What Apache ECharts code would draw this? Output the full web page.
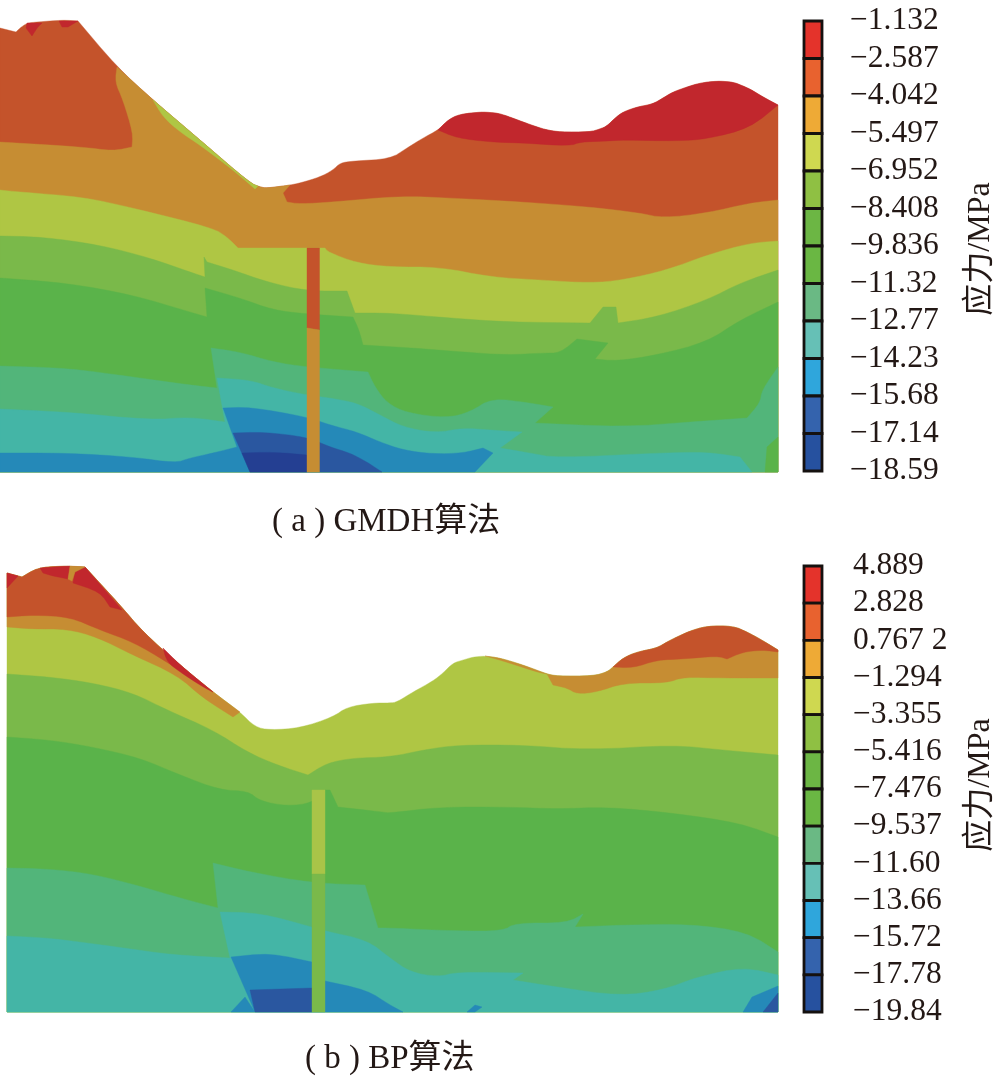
<!DOCTYPE html>
<html>
<head>
<meta charset="utf-8">
<title>应力云图</title>
<style>
  html, body { margin: 0; background: #fff; }
  #chart { width: 998px; height: 1077px; }
</style>
<script src="https://cdn.jsdelivr.net/npm/echarts@6/dist/echarts.min.js"></script>
</head>
<body>
<div id="chart"></div>
<script>
// 图例刻度
const ticksA = ['−1.132','−2.587','−4.042','−5.497','−6.952','−8.408','−9.836','−11.32','−12.77','−14.23','−15.68','−17.14','−18.59'];
const ticksB = ['4.889','2.828','0.767 2','−1.294','−3.355','−5.416','−7.476','−9.537','−11.60','−13.66','−15.72','−17.78','−19.84'];
const legendColors = ['#e4332b','#e8622f','#eeaa36','#cfd850','#8fc043','#6cb644','#6ab743','#6ab984','#66c0b6','#2fa6dc','#3463ad','#26519f'];

// 云图配色
const RED = '#c1272d', ORG = '#c4532b', OCH = '#c68d33', YEL = '#afc644', GR1 = '#7ab94a',
      GR2 = '#5ab34a', SEA = '#52b57a', TEA = '#44b5a6', BLU = '#2589b8', DBL = '#2a57a0', NAV = '#243f92';

// (a) GMDH —— 地表轮廓，剖面坐标
const terrainA = [[0,28],[16,32],[20,28],[27,23],[37,22],[63,20],[78,21],[117,67],[153,100],[200,140],[250,183],[260,187],[267,188],[283,186],[290,185],[300,183],[320,177],[333,170],[340,163],[353,161],[390,159],[407,148],[423,138],[438,130],[445,123],[450,119],[458,115],[470,113],[483,112],[497,113],[507,116],[523,122],[537,127],[547,130],[560,132],[590,132],[600,129],[607,126],[615,118],[623,112],[637,107],[653,104],[663,98],[673,92],[687,87],[700,83],[717,81],[733,82],[743,86],[750,89],[763,97],[778,105]];
// 各应力带的上边界
const ochreA = [[0,142],[83,147],[113,151],[132,147],[133,133],[123,100],[115,82],[117,67],[153,100],[200,140],[250,183],[260,187],[267,188],[283,186],[290,185],[283,193],[287,202],[300,204],[333,202],[400,196],[450,198],[523,202],[590,207],[640,213],[663,218],[707,213],[750,203],[778,200]];
const yellowA = [[0,190],[20,192],[83,197],[133,208],[213,228],[227,237],[238,248],[325,248],[328,252],[357,263],[390,267],[440,267],[490,277],[540,280],[590,283],[623,280],[667,270],[707,255],[750,243],[778,241]];
const green1A = [[0,236],[43,237],[100,245],[150,258],[190,272],[205,277],[204,257],[207,262],[233,270],[267,282],[307,291],[347,291],[355,313],[390,313],[450,318],[507,322],[590,323],[603,307],[616,307],[618,323],[657,317],[707,300],[740,283],[778,270]];
const green2A = [[0,278],[67,283],[133,295],[190,312],[207,317],[205,288],[240,298],[273,310],[307,314],[353,317],[359,330],[363,345],[413,348],[463,352],[507,355],[543,353],[560,353],[577,339],[608,343],[595,359],[617,361],[657,355],[707,342],[740,320],[778,302]];
const seaA = [[0,366],[67,368],[133,377],[190,385],[217,388],[211,348],[240,352],[273,362],[307,367],[368,372],[375,387],[387,403],[407,413],[447,418],[470,412],[492,398],[530,403],[553,407],[535,423],[623,427],[690,422],[747,418],[760,403],[762,390],[778,367]];
const tealA = [[0,409],[67,412],[150,420],[190,417],[225,422],[217,378],[250,380],[273,388],[307,395],[330,398],[357,403],[380,415],[403,427],[435,433],[463,428],[490,430],[522,432],[500,448],[530,453],[557,458],[657,453],[707,452],[740,457],[752,472]];
const blueA = [[0,453],[67,453],[133,457],[175,463],[190,458],[213,453],[237,447],[223,408],[250,407],[307,417],[330,425],[357,432],[380,442],[403,450],[433,454],[463,453],[483,448],[493,453],[475,472]];
const darkBlueA = [[233,433],[263,432],[307,437],[330,447],[350,453],[367,462],[382,472],[250,472]];
const navyA = [[242,453],[273,452],[307,455],[307,472],[250,472]];
const redPeak1A = [[27,23],[42,23],[37,28],[32,36],[26,28]];
const redPeak2A = [[59,21],[78,21],[68,27],[62,27]];
const redHillEdgeA = [[778,105],[750,128],[707,139],[677,141],[623,140],[607,141],[580,142],[570,146],[523,143],[490,142],[457,138],[438,130]];
const slopeSliverA = [[153,100],[200,140],[250,183],[258,186],[255,189],[233,170],[200,145],[180,132],[163,117]];
const cornerGreenA = [[778,437],[767,447],[765,472],[778,472]];
const shaftUpperA = [[307,248],[319.5,248],[319.5,330],[307,328]];
const shaftLowerA = [[307,328],[319.5,330],[319.5,472],[307,472]];

// (b) BP
const terrainB = [[7,573],[22,577],[37,568],[60,566],[85,567],[120,605],[143,632],[180,665],[213,692],[240,712],[255,727],[270,730],[300,728],[333,717],[347,707],[373,703],[390,703],[397,702],[413,692],[433,681],[443,673],[453,663],[463,660],[473,657],[485,656],[500,658],[523,665],[547,674],[557,676],[593,676],[607,672],[613,667],[623,658],[637,652],[657,648],[667,642],[677,637],[690,631],[707,626],[733,626],[747,632],[760,639],[778,650]];
const orangeEdgeB = [[213,692],[167,662],[133,642],[100,630],[70,617],[33,615],[7,617]];
const ochreEdgeB = [[240,712],[233,717],[203,698],[177,675],[133,655],[97,637],[67,629],[33,629],[7,627]];
const hillOchreEdgeB = [[778,678],[723,678],[683,677],[667,683],[623,683],[597,692],[577,694],[567,688],[553,685],[547,674]];
const hillOrangeEdgeB = [[778,652],[763,650],[743,652],[727,659],[717,656],[683,659],[657,660],[633,668],[613,667]];
const ridgeSliverB = [[485,656],[500,658],[523,665],[547,674],[537,672],[500,660]];
const redCornerB = [[7,573],[18,576],[7,588]];
const redTopB = [[40,568],[70,566],[68,579],[53,576],[43,573]];
const redFlankB = [[75,572],[85,567],[122,610],[110,607],[100,592],[73,583]];
const redSlopeB = [[163,648],[180,665],[213,692],[203,687],[180,672],[167,662]];
const ochreNotchB = [[70,566],[85,567],[75,572],[72,581],[68,579]];
const green1B = [[7,674],[50,677],[93,683],[133,693],[167,710],[213,730],[247,752],[277,765],[308,775],[327,763],[353,758],[390,757],[423,750],[457,745],[523,745],[587,750],[673,745],[723,750],[778,755]];
const green2B = [[7,737],[50,740],[93,747],[140,758],[180,775],[220,790],[248,791],[260,801],[287,806],[312,803],[325,790],[330,790],[338,807],[383,812],[390,813],[440,807],[507,807],[557,809],[607,807],[673,813],[740,823],[778,837]];
const seaB = [[7,868],[50,869],[93,874],[143,887],[180,898],[218,908],[213,863],[250,872],[312,883],[365,885],[378,928],[390,928],[457,931],[503,931],[515,923],[567,923],[583,914],[575,927],[623,925],[690,924],[747,932],[778,952]];
const tealB = [[7,936],[50,938],[117,947],[173,955],[230,958],[220,912],[260,913],[312,927],[325,931],[367,940],[390,958],[410,972],[438,977],[457,972],[523,973],[513,980],[557,987],[620,996],[663,990],[697,977],[743,967],[778,975]];
const blueB = [[231,957],[270,953],[312,962],[325,981],[367,990],[390,1005],[403,1012],[255,1012]];
const blueToeB = [[231,1012],[245,997],[255,1012]];
const blueChipB = [[467,1012],[475,1005],[482,1007],[475,1012]];
const blueCornerB = [[743,1012],[752,997],[778,986],[778,1012]];
const darkCornerB = [[763,1012],[778,993],[778,1012]];
const darkBlueB = [[250,990],[312,988],[312,1012],[255,1012]];
const shaftUpperB = [[312,790],[325,790],[325,874],[312,874]];
const shaftLowerB = [[312,874],[325,874],[325,1012],[312,1012]];

// 取地表上一段
const surface = (t, x0, x1) => t.filter(p => p[0] >= x0 && p[0] <= x1);
// 上边界向下闭合
const band = (edge, bottom) => [...edge, [edge[edge.length - 1][0], bottom], [edge[0][0], bottom]];

const BOTTOM_A = 472, BOTTOM_B = 1012;

const patchesA = [
  [band(terrainA, BOTTOM_A), ORG],
  [redPeak1A, RED], [redPeak2A, RED],
  [[...surface(terrainA, 438, 778), ...redHillEdgeA], RED],
  [band(ochreA, BOTTOM_A), OCH],
  [slopeSliverA, YEL],
  [band(yellowA, BOTTOM_A), YEL],
  [band(green1A, BOTTOM_A), GR1],
  [band(green2A, BOTTOM_A), GR2],
  [band(seaA, BOTTOM_A), SEA],
  [band(tealA, BOTTOM_A), TEA],
  [band(blueA, BOTTOM_A), BLU],
  [darkBlueA, DBL], [navyA, NAV],
  [cornerGreenA, GR2],
  [shaftUpperA, ORG], [shaftLowerA, OCH]
];

const patchesB = [
  [band(terrainB, BOTTOM_B), YEL],
  [[...surface(terrainB, 7, 240), ...ochreEdgeB], OCH],
  [[...surface(terrainB, 7, 213), ...orangeEdgeB], ORG],
  [redCornerB, RED], [redTopB, RED], [redFlankB, RED], [redSlopeB, RED], [ochreNotchB, OCH],
  [[...surface(terrainB, 547, 778), ...hillOchreEdgeB], OCH],
  [[...surface(terrainB, 613, 778), ...hillOrangeEdgeB], ORG],
  [ridgeSliverB, OCH],
  [band(green1B, BOTTOM_B), GR1],
  [band(green2B, BOTTOM_B), GR2],
  [band(seaB, BOTTOM_B), SEA],
  [band(tealB, BOTTOM_B), TEA],
  [blueB, BLU], [blueToeB, BLU], [blueChipB, BLU], [blueCornerB, BLU],
  [darkCornerB, DBL], [darkBlueB, DBL],
  [shaftUpperB, '#a9c448'], [shaftLowerB, GR1]
];

const SERIF = '"Liberation Serif", "Noto Sans CJK SC", serif';

// 画面上磨圆缓弯，急转角保留（断层、井筒）
function roundGentle(pts, passes) {
  let ring = pts;
  for (let n = 0; n < passes; n++) {
    const out = [];
    ring.forEach((p, i) => {
      const a = ring[(i - 1 + ring.length) % ring.length], b = ring[(i + 1) % ring.length];
      let turn = Math.abs(Math.atan2(b[1] - p[1], b[0] - p[0]) - Math.atan2(p[1] - a[1], p[0] - a[0]));
      if (turn > Math.PI) turn = 2 * Math.PI - turn;
      if (turn < 0.7) {
        out.push([p[0] + (a[0] - p[0]) * 0.25, p[1] + (a[1] - p[1]) * 0.25]);
        out.push([p[0] + (b[0] - p[0]) * 0.25, p[1] + (b[1] - p[1]) * 0.25]);
      } else {
        out.push(p);
      }
    });
    ring = out;
  }
  return ring;
}

function fieldSeries(patches, axisIndex) {
  return {
    type: 'custom',
    coordinateSystem: 'cartesian2d',
    xAxisIndex: axisIndex,
    yAxisIndex: axisIndex,
    silent: true,
    animation: false,
    data: patches.map((_, i) => [i]),
    renderItem: (params, api) => {
      const p = patches[api.value(0)];
      const pts = p[0].map(pt => api.coord(pt));
      return {
        type: 'polygon',
        shape: { points: pts.length > 4 ? roundGentle(pts, 2) : pts },
        style: { fill: p[1], stroke: p[1], lineWidth: 0.4 }
      };
    }
  };
}

function legendSeries(axisIndex) {
  return {
    type: 'custom',
    coordinateSystem: 'cartesian2d',
    xAxisIndex: axisIndex,
    yAxisIndex: axisIndex,
    silent: true,
    animation: false,
    data: legendColors.map((_, i) => [i]),
    renderItem: (params, api) => {
      const i = api.value(0);
      const a = api.coord([0, i]), b = api.coord([1, i + 1]);
      return {
        type: 'rect',
        shape: { x: a[0], y: a[1], width: b[0] - a[0], height: b[1] - a[1] },
        style: { fill: legendColors[i], stroke: '#15110f', lineWidth: 2.8 }
      };
    }
  };
}

function legendAxis(ticks, grid, margin, namePad) {
  return {
    type: 'value', gridIndex: grid, position: 'right', inverse: true,
    min: 0, max: 12, interval: 1,
    axisLine: { show: false }, axisTick: { show: false }, splitLine: { show: false },
    axisLabel: {
      margin: margin, fontFamily: SERIF, fontSize: 31.5, color: '#231815',
      padding: [0, 0, 6, 0], formatter: v => ticks[v]
    },
    name: '应力/MPa', nameLocation: 'middle', nameRotate: 90, nameGap: 143,
    nameTextStyle: { fontFamily: SERIF, fontSize: 32, color: '#231815', padding: namePad }
  };
}

const hiddenX = (g, min, max) => ({ type: 'value', gridIndex: g, min, max, show: false });

const chart = echarts.init(document.getElementById('chart'), null, { width: 998, height: 1077 });
chart.setOption({
  backgroundColor: '#fff',
  animation: false,
  title: [
    { text: '( a ) GMDH算法', left: 267, top: 501, textStyle: { fontFamily: SERIF, fontSize: 33, fontWeight: 'normal', color: '#231815' } },
    { text: '( b ) BP算法', left: 300, top: 1038, textStyle: { fontFamily: SERIF, fontSize: 33, fontWeight: 'normal', color: '#231815' } }
  ],
  grid: [
    { left: 0, top: 0, width: 778, height: 472 },
    { left: 0, top: 540, width: 778, height: 472 },
    { left: 804, top: 21, width: 28, height: 450 },
    { left: 804, top: 566, width: 27, height: 446 }
  ],
  xAxis: [hiddenX(0, 0, 778), hiddenX(1, 0, 778), hiddenX(2, 0, 1), hiddenX(3, 0, 1)],
  yAxis: [
    { type: 'value', gridIndex: 0, inverse: true, min: 0, max: 472, show: false },
    { type: 'value', gridIndex: 1, inverse: true, min: 540, max: 1012, show: false },
    legendAxis(ticksA, 2, 28, [0, 6, 0, 0]),
    legendAxis(ticksB, 3, 31, [0, 0, 0, 8])
  ],
  series: [
    fieldSeries(patchesA, 0),
    fieldSeries(patchesB, 1),
    legendSeries(2),
    legendSeries(3)
  ]
});
</script>
</body>
</html>
